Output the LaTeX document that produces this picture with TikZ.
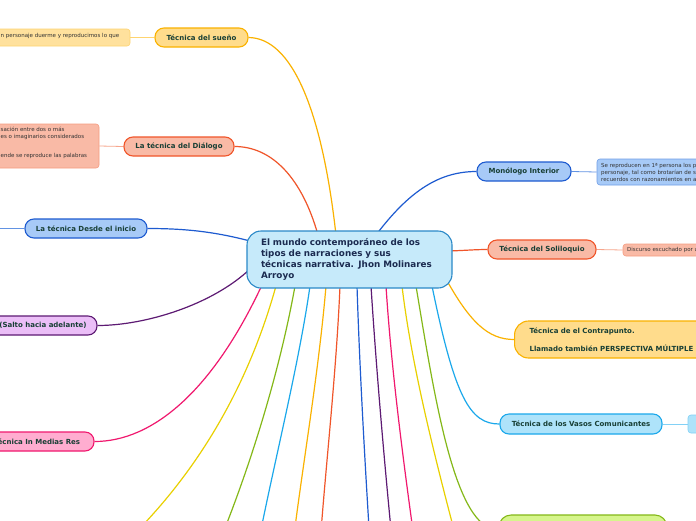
\documentclass[tikz,border=0pt]{standalone}
\usepackage{fontspec}
\setmainfont{DejaVu Sans}
\usetikzlibrary{calc}
\pgfdeclarelayer{background}
\pgfsetlayers{background,main}
\definecolor{txt}{HTML}{183F35}
\definecolor{ctxt}{HTML}{1B2B50}
\definecolor{stxt}{HTML}{333333}
\definecolor{cfill}{HTML}{C6EAFA}
\definecolor{cline}{HTML}{2A89C8}
\definecolor{orl}{HTML}{FAB200}
\definecolor{orf}{HTML}{FFDC8C}
\definecolor{rdl}{HTML}{F0552A}
\definecolor{rdf}{HTML}{F9BAA6}
\definecolor{bll}{HTML}{1E5BD0}
\definecolor{blf}{HTML}{A7CAF7}
\definecolor{pul}{HTML}{5D1A73}
\definecolor{puf}{HTML}{EBBEF7}
\definecolor{pkl}{HTML}{F0186E}
\definecolor{pkf}{HTML}{FFADD0}
\definecolor{yel}{HTML}{E9D000}
\definecolor{grl}{HTML}{84B818}
\definecolor{grf}{HTML}{D6F58C}
\definecolor{cyl}{HTML}{1BA8EB}
\definecolor{cyf}{HTML}{AEE3FA}
\tikzset{
  topicbox/.style={draw, rounded corners=9pt, line width=1.1pt, minimum height=19pt,
    inner sep=0pt, font=\fontsize{7}{8}\selectfont\bfseries, text=txt},
  subbox/.style={draw, rounded corners=3pt, line width=0.6pt, inner sep=0pt},
  subtext/.style={inner sep=0pt, anchor=west, align=left,
    font=\fontsize{5.5}{7}\selectfont, text=stxt},
  conn/.style={line width=1.2pt},
  subconn/.style={line width=0.8pt},
}
\begin{document}
\begin{tikzpicture}[x=1pt,y=-1pt]
\useasboundingbox (0,0) rectangle (696,520);

% central node
\node[draw=cline, fill=cfill, line width=1.1pt, rounded corners=14pt,
  minimum width=205pt, minimum height=57pt, inner xsep=14pt, inner ysep=0pt,
  text width=177pt, align=left, text=ctxt,
  font=\fontsize{8.8}{11.2}\selectfont\bfseries] (center) at (349.5,259.5)
  {El mundo contemporáneo de los\\tipos de narraciones y sus\\técnicas narrativa. Jhon Molinares\\Arroyo};

% main topics
\node[topicbox, draw=orl, fill=orf, minimum width=93pt] (sueno) at (201.5,37.5) {Técnica del sueño};
\node[topicbox, draw=rdl, fill=rdf, minimum width=110pt] (dialogo) at (179,146.5) {La técnica del Diálogo};
\node[topicbox, draw=bll, fill=blf, minimum width=122pt] (desde) at (86,228.5) {La técnica Desde el inicio};
\node[topicbox, draw=pul, fill=puf, minimum width=108pt] (salto) at (43,325.5) {(Salto hacia adelante)};
\node[topicbox, draw=pkl, fill=pkf, minimum width=114pt] (medias) at (37,441.5) {Técnica In Medias Res};
\node[topicbox, draw=bll, fill=blf, minimum width=94pt] (monologo) at (524,171.5) {Monólogo Interior};
\node[topicbox, draw=rdl, fill=rdf, minimum width=108pt] (soliloquio) at (542,249.5) {Técnica del Soliloquio};
\node[draw=orl, fill=orf, line width=1.1pt, rounded corners=14pt, anchor=west,
  minimum width=230pt, minimum height=37pt, inner xsep=15pt, inner ysep=0pt,
  text width=200pt, align=left, text=txt,
  font=\fontsize{7}{8}\selectfont\bfseries] (contra) at (514,339.5)
  {Técnica de el Contrapunto.\\[10pt]Llamado también PERSPECTIVA MÚLTIPLE};
\node[topicbox, draw=cyl, fill=cyf, minimum width=162pt, minimum height=20pt] (vasos) at (581,424) {Técnica de los Vasos Comunicantes};
\node[draw=grl, fill=grf, line width=1.1pt, rounded corners=12pt,
  minimum width=168pt, minimum height=30pt] (verde) at (583,530) {};

% sub topic boxes
\node[subbox, draw=orf!80!orl, fill=orf!85!white, minimum width=140pt, minimum height=17pt] (suenosub) at (60,37.5) {};
\node[subbox, draw=rdf!70!rdl, fill=rdf, minimum width=109pt, minimum height=44pt] (dialogosub) at (44.5,146) {};
\node[subbox, draw=blf!60!bll, fill=blf, minimum width=123pt, minimum height=26pt] (monosub) at (658.5,172) {};
\node[subbox, draw=rdf!70!rdl, fill=rdf, minimum width=97pt, minimum height=12pt] (solisub) at (671.5,250) {};
\node[subbox, draw=cyf!70!cyl, fill=cyf, minimum width=40pt, minimum height=18pt] (vasosub) at (708,424) {};
% sub topic texts
\node[subtext] (suenotxt) at (0.5,36) {n personaje duerme y reproducimos lo que};
\node[subtext] (dialogotxt) at (0.5,143) {sación entre dos o más\\es o imaginarios considerados\\[12pt]ende se reproduce las palabras};
\node[subtext] (monotxt) at (601,172) {Se reproducen en 1ª persona los p\\personaje, tal como brotarían de s\\recuerdos con razonamientos en a};
\node[subtext] (solitxt) at (627,250) {Discurso escuchado por u};

\coordinate (desdeend) at (-5,228.5);
\coordinate (y1end) at (95,570);
\coordinate (g1end) at (212,560);
\coordinate (c1end) at (255,560);
\coordinate (o1end) at (291,560);
\coordinate (r1end) at (319,560);
\coordinate (b1end) at (371,560);
\coordinate (p1end) at (394,560);
\coordinate (k1end) at (417,560);
\coordinate (y2end) at (462,560);

\begin{pgfonlayer}{background}
\fill[white] (0,0) rectangle (696,520);
% connectors to main topics
\draw[conn, orl] ($(center.center)+(-13.5,-24.5)$) .. controls (322,110) and (292,38) .. (sueno.east);
\draw[conn, rdl] ($(center.center)+(-31.5,-24.5)$) .. controls (302,178) and (272,146.5) .. (dialogo.east);
\draw[conn, bll] ($(center.center)+(-99.5,-18.5)$) .. controls (212,231) and (182,228.5) .. (desde.east);
\draw[conn, pul] ($(center.center)+(-99.5,9.5)$) .. controls (212,305) and (145,325.5) .. (salto.east);
\draw[conn, pkl] ($(center.center)+(-87.5,25.5)$) .. controls (212,392) and (152,441.5) .. (medias.east);
\draw[conn, bll] ($(center.center)+(26.5,-24.5)$) .. controls (410,190) and (440,171.5) .. (monologo.west);
\draw[conn, rdl] ($(center.center)+(98.5,-8.5)$) .. controls (465,250.5) and (475,249.5) .. (soliloquio.west);
\draw[conn, orl] ($(center.center)+(96.5,19.5)$) .. controls (470,322) and (488,339.5) .. (contra.west);
\draw[conn, cyl] ($(center.center)+(82.5,26.5)$) .. controls (455,398) and (470,424) .. (vasos.west);
\draw[conn, grl] ($(center.center)+(66.5,26.5)$) .. controls (435,400) and (455,530) .. (verde.west);
% connectors to topics below the picture
\draw[conn, yel] ($(center.center)+(-73.5,26.5)$) .. controls (258,350) and (215,470) .. (y1end);
\draw[conn, grl] ($(center.center)+(-54.5,26.5)$) .. controls (280,370) and (250,470) .. (g1end);
\draw[conn, cyl] ($(center.center)+(-39.5,26.5)$) .. controls (298,370) and (272,470) .. (c1end);
\draw[conn, orl] ($(center.center)+(-23.5,26.5)$) .. controls (318,380) and (300,480) .. (o1end);
\draw[conn, rdl] ($(center.center)+(-9.5,26.5)$) .. controls (336,380) and (324,480) .. (r1end);
\draw[conn, bll] ($(center.center)+(7.5,26.5)$) .. controls (360,380) and (366,480) .. (b1end);
\draw[conn, pul] ($(center.center)+(21.5,26.5)$) .. controls (377,380) and (386,480) .. (p1end);
\draw[conn, pkl] ($(center.center)+(36.5,26.5)$) .. controls (392,380) and (406,480) .. (k1end);
\draw[conn, yel] ($(center.center)+(52.5,26.5)$) .. controls (412,370) and (438,470) .. (y2end);
% connectors to sub topics
\draw[subconn, orf!80!orl] (sueno.west) -- (suenosub.east);
\draw[subconn, rdf!80!rdl] (dialogo.west) -- (dialogosub.east);
\draw[subconn, blf!50!bll] (desde.west) -- (desdeend);
\draw[subconn, blf!50!bll] (monologo.east) -- (monosub.west);
\draw[subconn, rdf!80!rdl] (soliloquio.east) -- (solisub.west);
\draw[subconn, cyf!70!cyl] (vasos.east) -- (vasosub.west);
\end{pgfonlayer}
\end{tikzpicture}
\end{document}
